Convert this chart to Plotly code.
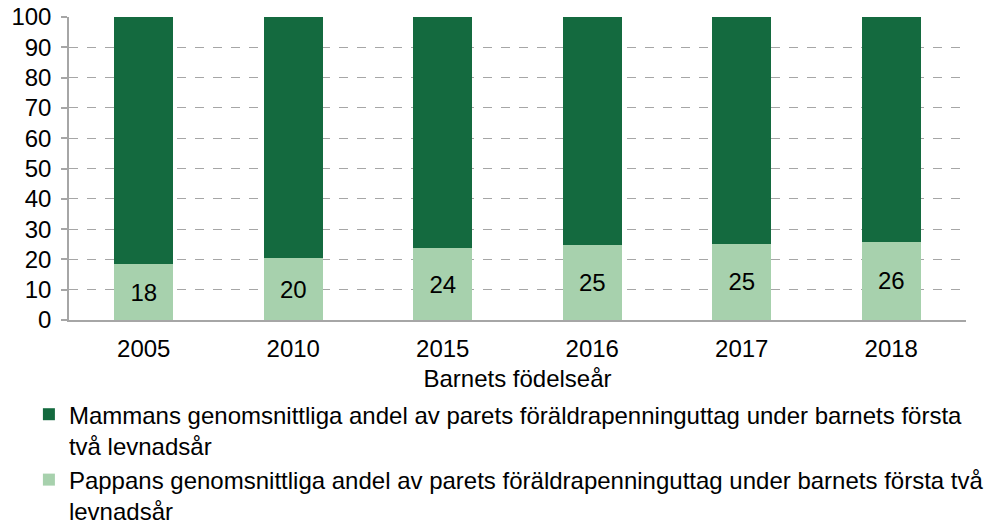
import plotly.graph_objects as go

years = ["2005", "2010", "2015", "2016", "2017", "2018"]
pappa = [18.4, 20.4, 23.6, 24.9, 25.1, 25.8]
mamma = [round(100 - v, 1) for v in pappa]
pappa_labels = ["18", "20", "24", "25", "25", "26"]
y_ticks = list(range(0, 101, 10))

name_mamma = "Mammans genomsnittliga andel av parets föräldrapenninguttag under barnets första<br>två levnadsår"
name_pappa = "Pappans genomsnittliga andel av parets föräldrapenninguttag under barnets första två<br>levnadsår"

FONT = "Liberation Sans, Arial, sans-serif"
FS = 24
LFS = 24

fig = go.Figure()
fig.add_trace(go.Bar(
    x=years, y=pappa, name=name_pappa, legendgroup="p",
    marker=dict(color="#a7d1ad", line=dict(width=0)),
    text=pappa_labels, textposition="inside", insidetextanchor="middle",
    textfont=dict(color="#000000", size=FS, family=FONT),
    hoverinfo="x+y",
))
fig.add_trace(go.Bar(
    x=years, y=mamma, name=name_mamma, legendgroup="m",
    marker=dict(color="#146a3f", line=dict(width=0)),
    hoverinfo="x+y",
))

fig.update_layout(
    barmode="stack",
    bargap=0.605,
    width=987, height=524,
    margin=dict(l=69, r=21, t=17, b=204, autoexpand=False),
    plot_bgcolor="white", paper_bgcolor="white",
    font=dict(family=FONT, size=FS, color="#000000"),
    showlegend=True,
    legend=dict(
        orientation="v", traceorder="reversed",
        x=-0.0447, xanchor="left", y=-0.238, yanchor="top",
        valign="top", tracegroupgap=0,
        font=dict(size=LFS, family=FONT, color="#000000"),
        bgcolor="rgba(0,0,0,0)",
    ),
    uniformtext=dict(mode=False),
)
fig.update_xaxes(
    showline=True, linecolor="#a6a6a6", linewidth=1.5,
    ticks="", showgrid=False, ticklabelstandoff=6,
    tickfont=dict(size=FS, family=FONT),
    title=dict(text="Barnets födelseår", font=dict(size=FS, family=FONT), standoff=10),
)
fig.update_yaxes(
    range=[0, 100], tickvals=y_ticks,
    showline=True, linecolor="#a6a6a6", linewidth=1.5,
    ticks="outside", ticklen=6, tickcolor="#a6a6a6", tickwidth=1.5,
    ticklabelstandoff=5,
    showgrid=True, gridcolor="#a6a6a6", griddash="dash", gridwidth=1,
    zeroline=False,
    tickfont=dict(size=FS, family=FONT),
)

fig.write_html(
    "out.html",
    config={"displayModeBar": False},
    post_script="document.body.style.margin='0';document.body.style.overflow='hidden';",
)
